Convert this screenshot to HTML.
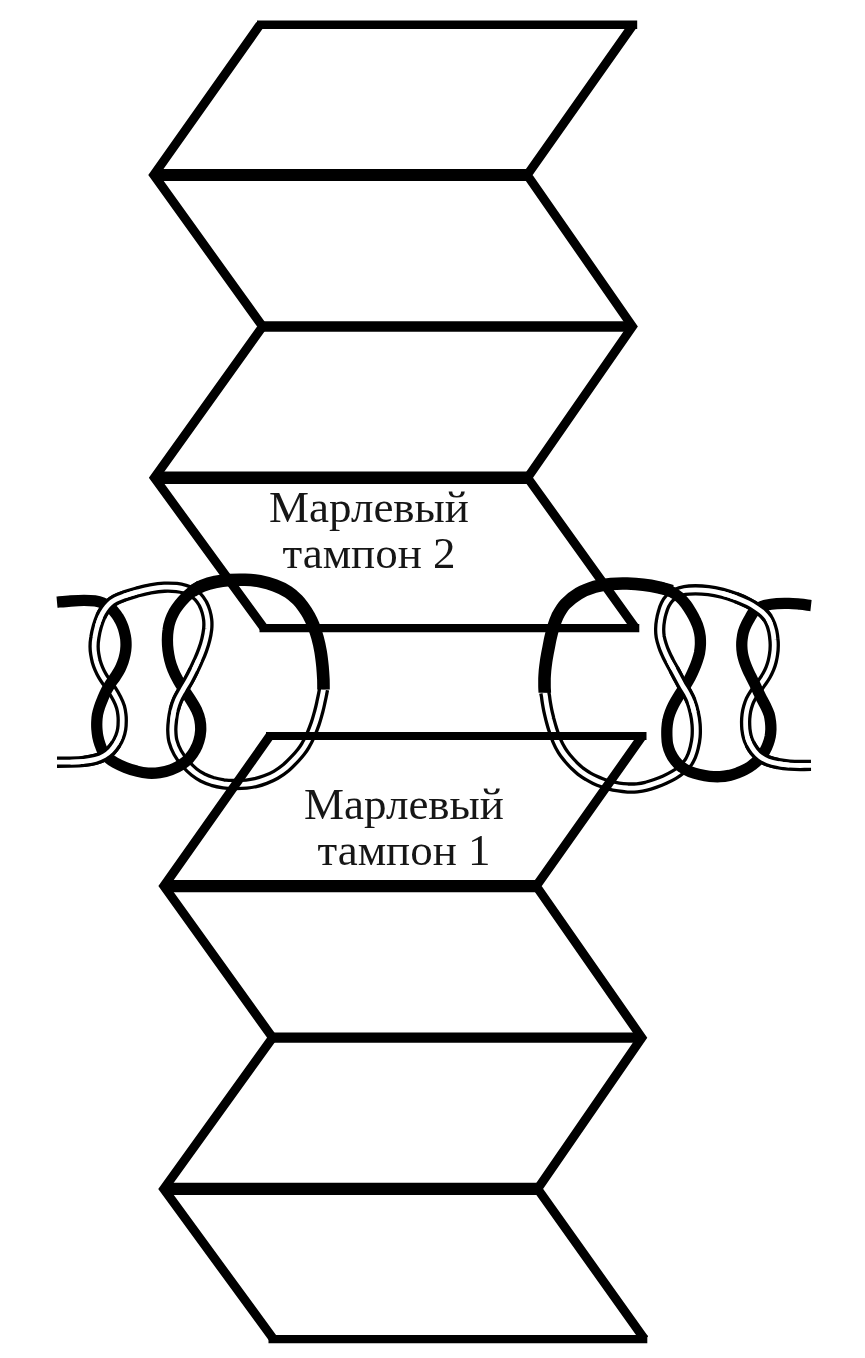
<!DOCTYPE html>
<html><head><meta charset="utf-8"><style>
html,body{margin:0;padding:0;background:#fff;}
body{width:865px;height:1358px;overflow:hidden;position:relative;}
svg{position:absolute;left:0;top:0;}
.t{position:absolute;will-change:transform;font-family:"Liberation Serif",serif;font-size:45px;line-height:46.3px;color:#161616;white-space:nowrap;text-align:center;}
</style></head><body>
<svg width="865" height="1358" viewBox="0 0 865 1358">
<g fill="none" stroke-linecap="butt" stroke-linejoin="round">
<path d="M323.5 689.5 C323.3 690.5 322.8 693.2 322.4 695.2 C322.0 697.3 321.6 699.1 321.0 701.8 C320.4 704.6 319.7 708.0 318.7 711.6 C317.7 715.2 316.6 719.5 315.2 723.5 C313.8 727.4 312.2 731.7 310.6 735.3 C309.0 738.9 307.3 742.3 305.6 745.1 C304.0 747.9 302.7 749.7 300.9 752.0 C299.1 754.3 297.3 756.4 294.8 759.0 C292.3 761.6 289.2 764.9 286.0 767.6 C282.9 770.2 279.2 772.8 275.8 774.8 C272.4 776.8 268.8 778.3 265.4 779.6 C262.0 780.9 258.8 781.9 255.6 782.6 C252.4 783.4 249.7 783.8 246.4 784.1 C243.1 784.4 239.5 784.5 235.7 784.5 C231.9 784.4 227.5 784.3 223.6 783.8 C219.7 783.2 215.8 782.4 212.3 781.4 C208.8 780.3 205.8 779.1 202.8 777.6 C199.8 776.0 197.1 774.4 194.2 772.1 C191.3 769.8 188.3 766.9 185.5 763.6 C182.7 760.4 179.8 756.5 177.7 752.8 C175.6 749.0 174.0 745.0 173.0 741.2 C172.0 737.5 171.9 733.8 171.8 730.2 C171.7 726.7 172.1 723.4 172.5 720.0 C172.9 716.6 173.4 713.3 174.2 710.0 C175.0 706.7 176.1 703.3 177.5 700.0 C178.9 696.7 181.0 693.3 182.9 690.0 C184.8 686.7 186.9 683.3 188.8 680.0 C190.6 676.7 192.2 673.3 193.9 670.0 C195.5 666.7 197.0 663.3 198.5 660.0 C200.0 656.7 201.4 653.4 202.6 650.0 C203.8 646.6 205.0 643.0 205.8 639.5 C206.7 636.0 207.3 632.3 207.7 629.0 C208.0 625.7 208.0 622.8 207.7 619.9 C207.4 617.0 206.8 614.3 206.0 611.5 C205.2 608.8 204.1 606.0 202.8 603.5 C201.4 601.1 199.8 598.8 198.0 596.9 C196.2 595.0 194.1 593.4 191.9 592.1 C189.8 590.9 187.7 590.0 185.1 589.2 C182.6 588.5 179.9 587.9 176.5 587.5 C173.0 587.2 168.7 587.0 164.3 587.2 C160.0 587.4 155.1 588.1 150.5 588.9 C145.9 589.8 141.0 591.1 136.6 592.2 C132.2 593.4 127.8 594.8 124.2 596.0 C120.7 597.3 117.9 598.4 115.4 599.7 C112.9 601.1 111.2 602.4 109.4 604.0 C107.6 605.7 106.1 607.6 104.7 609.7 C103.3 611.8 102.0 613.8 100.8 616.5 C99.6 619.3 98.4 622.6 97.4 626.0 C96.4 629.5 95.4 633.9 94.9 637.4 C94.3 640.8 94.1 643.8 94.1 646.5 C94.1 649.3 94.3 651.4 94.7 653.9 C95.1 656.4 95.6 658.8 96.2 661.3 C96.9 663.7 97.8 666.2 98.8 668.6 C99.8 671.0 101.0 673.4 102.3 675.6 C103.6 677.9 104.9 679.7 106.5 682.0 C108.1 684.3 109.9 686.7 111.6 689.4 C113.4 692.2 115.5 695.7 117.0 698.6 C118.5 701.5 119.7 704.4 120.5 707.0 C121.3 709.7 121.6 712.0 121.9 714.5 C122.2 716.9 122.3 719.4 122.2 721.8 C122.2 724.3 122.1 726.7 121.7 729.2 C121.3 731.6 120.7 734.1 119.7 736.5 C118.8 739.0 117.5 741.5 116.0 743.9 C114.5 746.2 112.8 748.6 110.8 750.6 C108.9 752.6 106.8 754.3 104.2 755.8 C101.7 757.2 98.9 758.4 95.5 759.3 C92.1 760.3 88.2 760.9 84.0 761.4 C79.8 761.9 75.0 762.0 70.5 762.1 C66.0 762.2 59.2 762.2 57.0 762.2" stroke="#000" stroke-width="11.4"/>
<path d="M323.5 689.5 C323.3 690.5 322.8 693.2 322.4 695.2 C322.0 697.3 321.6 699.1 321.0 701.8 C320.4 704.6 319.7 708.0 318.7 711.6 C317.7 715.2 316.6 719.5 315.2 723.5 C313.8 727.4 312.2 731.7 310.6 735.3 C309.0 738.9 307.3 742.3 305.6 745.1 C304.0 747.9 302.7 749.7 300.9 752.0 C299.1 754.3 297.3 756.4 294.8 759.0 C292.3 761.6 289.2 764.9 286.0 767.6 C282.9 770.2 279.2 772.8 275.8 774.8 C272.4 776.8 268.8 778.3 265.4 779.6 C262.0 780.9 258.8 781.9 255.6 782.6 C252.4 783.4 249.7 783.8 246.4 784.1 C243.1 784.4 239.5 784.5 235.7 784.5 C231.9 784.4 227.5 784.3 223.6 783.8 C219.7 783.2 215.8 782.4 212.3 781.4 C208.8 780.3 205.8 779.1 202.8 777.6 C199.8 776.0 197.1 774.4 194.2 772.1 C191.3 769.8 188.3 766.9 185.5 763.6 C182.7 760.4 179.8 756.5 177.7 752.8 C175.6 749.0 174.0 745.0 173.0 741.2 C172.0 737.5 171.9 733.8 171.8 730.2 C171.7 726.7 172.1 723.4 172.5 720.0 C172.9 716.6 173.4 713.3 174.2 710.0 C175.0 706.7 176.1 703.3 177.5 700.0 C178.9 696.7 181.0 693.3 182.9 690.0 C184.8 686.7 186.9 683.3 188.8 680.0 C190.6 676.7 192.2 673.3 193.9 670.0 C195.5 666.7 197.0 663.3 198.5 660.0 C200.0 656.7 201.4 653.4 202.6 650.0 C203.8 646.6 205.0 643.0 205.8 639.5 C206.7 636.0 207.3 632.3 207.7 629.0 C208.0 625.7 208.0 622.8 207.7 619.9 C207.4 617.0 206.8 614.3 206.0 611.5 C205.2 608.8 204.1 606.0 202.8 603.5 C201.4 601.1 199.8 598.8 198.0 596.9 C196.2 595.0 194.1 593.4 191.9 592.1 C189.8 590.9 187.7 590.0 185.1 589.2 C182.6 588.5 179.9 587.9 176.5 587.5 C173.0 587.2 168.7 587.0 164.3 587.2 C160.0 587.4 155.1 588.1 150.5 588.9 C145.9 589.8 141.0 591.1 136.6 592.2 C132.2 593.4 127.8 594.8 124.2 596.0 C120.7 597.3 117.9 598.4 115.4 599.7 C112.9 601.1 111.2 602.4 109.4 604.0 C107.6 605.7 106.1 607.6 104.7 609.7 C103.3 611.8 102.0 613.8 100.8 616.5 C99.6 619.3 98.4 622.6 97.4 626.0 C96.4 629.5 95.4 633.9 94.9 637.4 C94.3 640.8 94.1 643.8 94.1 646.5 C94.1 649.3 94.3 651.4 94.7 653.9 C95.1 656.4 95.6 658.8 96.2 661.3 C96.9 663.7 97.8 666.2 98.8 668.6 C99.8 671.0 101.0 673.4 102.3 675.6 C103.6 677.9 104.9 679.7 106.5 682.0 C108.1 684.3 109.9 686.7 111.6 689.4 C113.4 692.2 115.5 695.7 117.0 698.6 C118.5 701.5 119.7 704.4 120.5 707.0 C121.3 709.7 121.6 712.0 121.9 714.5 C122.2 716.9 122.3 719.4 122.2 721.8 C122.2 724.3 122.1 726.7 121.7 729.2 C121.3 731.6 120.7 734.1 119.7 736.5 C118.8 739.0 117.5 741.5 116.0 743.9 C114.5 746.2 112.8 748.6 110.8 750.6 C108.9 752.6 106.8 754.3 104.2 755.8 C101.7 757.2 98.9 758.4 95.5 759.3 C92.1 760.3 88.2 760.9 84.0 761.4 C79.8 761.9 75.0 762.0 70.5 762.1 C66.0 762.2 59.2 762.2 57.0 762.2" stroke="#fff" stroke-width="4.8"/>
<path d="M57.0 602.2 C59.2 602.0 66.0 601.3 70.5 601.0 C75.0 600.7 79.9 600.4 84.0 600.4 C88.1 600.4 91.9 600.5 95.0 600.9 C98.1 601.3 100.5 602.0 102.8 602.9 C105.0 603.8 106.9 605.0 108.8 606.4 C110.6 607.8 112.4 609.5 114.0 611.4 C115.6 613.2 117.2 615.4 118.5 617.6 C119.9 619.8 121.1 622.2 122.0 624.6 C123.0 626.9 123.8 629.4 124.4 631.8 C125.0 634.3 125.5 636.7 125.8 639.2 C126.0 641.6 126.1 644.1 126.0 646.5 C125.9 649.0 125.6 651.5 125.1 654.0 C124.6 656.4 124.0 658.9 123.2 661.3 C122.3 663.7 121.4 666.2 120.2 668.6 C119.0 671.1 117.4 673.5 115.8 676.0 C114.3 678.5 112.3 680.9 110.7 683.4 C109.1 685.9 107.5 688.5 106.1 691.1 C104.7 693.8 103.6 696.6 102.5 699.3 C101.4 702.0 100.3 704.6 99.5 707.1 C98.7 709.6 98.0 712.0 97.5 714.5 C97.1 716.9 96.9 719.4 96.8 721.8 C96.7 724.3 96.7 726.7 96.9 729.2 C97.1 731.6 97.3 734.1 97.8 736.5 C98.3 739.0 99.0 741.5 99.8 743.9 C100.6 746.3 101.3 748.7 102.6 750.9 C103.8 753.1 105.1 755.1 107.2 757.1 C109.3 759.0 112.0 760.9 115.0 762.6 C118.0 764.3 121.7 766.0 125.3 767.4 C128.9 768.8 132.8 770.2 136.6 771.1 C140.4 772.1 144.3 772.9 148.1 773.1 C152.0 773.4 155.8 773.2 159.7 772.6 C163.5 772.1 167.6 771.1 171.2 769.8 C174.9 768.4 178.6 766.6 181.7 764.6 C184.8 762.6 187.3 760.2 189.6 757.8 C191.8 755.3 193.6 752.7 195.1 749.9 C196.7 747.1 198.0 744.0 198.9 740.8 C199.9 737.5 200.5 733.9 200.7 730.4 C200.8 726.9 200.6 723.4 199.9 720.0 C199.3 716.6 198.1 713.3 196.6 710.0 C195.0 706.7 192.9 703.3 190.8 700.0 C188.8 696.7 186.3 693.3 184.2 690.0 C182.0 686.7 179.8 683.3 178.0 680.0 C176.1 676.7 174.4 673.3 173.1 670.0 C171.7 666.7 170.6 663.3 169.8 660.0 C169.0 656.7 168.4 653.3 168.0 650.0 C167.6 646.7 167.4 643.3 167.4 640.0 C167.4 636.7 167.6 633.3 168.1 630.0 C168.5 626.7 169.3 623.3 170.4 620.2 C171.4 617.2 172.8 614.3 174.2 611.7 C175.7 609.0 177.4 606.7 179.2 604.4 C181.1 602.0 183.2 599.6 185.4 597.4 C187.7 595.2 190.3 593.0 192.8 591.0 C195.3 589.0 199.2 586.4 200.5 585.5" stroke="#000" stroke-width="11.3"/>
<path d="M192.8 590.8 C194.4 590.0 198.5 587.3 202.2 585.8 C205.9 584.4 210.5 583.0 215.1 582.0 C219.8 581.1 225.0 580.4 230.0 580.0 C235.0 579.7 240.0 579.6 245.0 579.8 C250.0 580.0 255.0 580.4 260.0 581.3 C265.0 582.3 270.3 583.7 275.0 585.5 C279.7 587.2 284.6 589.7 288.4 592.1 C292.1 594.5 295.0 597.3 297.6 599.9 C300.1 602.4 301.7 604.8 303.6 607.4 C305.5 610.0 307.1 612.5 308.8 615.5 C310.4 618.5 312.0 621.7 313.5 625.4 C314.9 629.1 316.4 633.2 317.5 637.5 C318.7 641.9 319.8 646.7 320.6 651.5 C321.4 656.3 322.0 661.6 322.5 666.3 C322.9 670.9 323.2 675.6 323.4 679.5 C323.5 683.3 323.5 687.8 323.5 689.5" stroke="#000" stroke-width="12.6"/>
<path d="M124.25 596.05 C120.72 597.30 117.88 598.39 115.40 599.73 C112.92 601.06 111.16 602.38 109.38 604.05 C107.59 605.72 106.13 607.64 104.70 609.73 C103.27 611.81 102.02 613.83 100.80 616.55" stroke="#000" stroke-width="11.4"/>
<path d="M136.60 592.25 C132.23 593.43 127.78 594.80 124.25 596.05 C120.72 597.30 117.88 598.39 115.40 599.73 C112.92 601.06 111.16 602.38 109.38 604.05 C107.59 605.72 106.13 607.64 104.70 609.73 C103.27 611.81 102.02 613.83 100.80 616.55 C99.58 619.27 98.36 622.58 97.38 626.05" stroke="#fff" stroke-width="4.8"/>
<path d="M115.97 743.90 C114.49 746.25 112.78 748.65 110.83 750.62 C108.87 752.60 106.80 754.32 104.25 755.77 C101.70 757.23 98.88 758.41 95.50 759.35 C92.12 760.29 88.17 760.94 84.00 761.40" stroke="#000" stroke-width="11.4"/>
<path d="M119.72 736.52 C118.77 738.98 117.46 741.55 115.97 743.90 C114.49 746.25 112.78 748.65 110.83 750.62 C108.87 752.60 106.80 754.32 104.25 755.77 C101.70 757.23 98.88 758.41 95.50 759.35 C92.12 760.29 88.17 760.94 84.00 761.40 C79.83 761.86 75.00 761.97 70.50 762.10" stroke="#fff" stroke-width="4.8"/>
<path d="M174.20 710.00 C175.03 706.67 176.05 703.33 177.50 700.00 C178.95 696.67 181.00 693.33 182.88 690.00 C184.75 686.67 186.92 683.33 188.75 680.00 C190.58 676.67 192.25 673.33 193.88 670.00" stroke="#000" stroke-width="11.4"/>
<path d="M172.53 720.00 C172.93 716.62 173.37 713.33 174.20 710.00 C175.03 706.67 176.05 703.33 177.50 700.00 C178.95 696.67 181.00 693.33 182.88 690.00 C184.75 686.67 186.92 683.33 188.75 680.00 C190.58 676.67 192.25 673.33 193.88 670.00 C195.50 666.67 197.04 663.33 198.50 660.00" stroke="#fff" stroke-width="4.8"/>
<path d="M544.8 692.8 C544.9 693.4 545.2 694.6 545.5 696.3 C545.7 698.0 546.0 700.5 546.4 702.9 C546.8 705.3 547.3 708.3 547.9 711.0 C548.5 713.7 549.1 716.1 549.8 719.1 C550.6 722.1 551.4 725.3 552.6 728.9 C553.7 732.5 555.2 737.0 556.8 740.7 C558.3 744.3 560.2 747.8 562.0 750.8 C563.8 753.8 565.7 756.0 567.7 758.4 C569.7 760.8 571.8 763.1 574.0 765.3 C576.2 767.4 578.5 769.6 580.8 771.4 C583.1 773.1 585.4 774.7 587.7 776.0 C590.0 777.4 592.3 778.6 594.7 779.7 C597.1 780.8 599.4 781.8 602.0 782.8 C604.5 783.7 607.2 784.5 610.0 785.2 C612.8 786.0 615.7 786.5 618.7 787.0 C621.7 787.5 624.7 787.8 627.8 788.0 C630.8 788.1 633.9 788.1 637.0 787.8 C640.1 787.5 643.2 787.0 646.3 786.2 C649.4 785.5 652.4 784.4 655.5 783.3 C658.6 782.2 661.7 781.0 664.8 779.6 C667.8 778.2 671.0 776.7 674.0 774.9 C676.9 773.2 679.9 771.0 682.2 769.0 C684.5 767.0 686.4 764.9 688.0 762.8 C689.5 760.7 690.4 758.8 691.5 756.3 C692.5 753.8 693.5 751.1 694.2 747.8 C695.0 744.5 695.8 740.6 696.1 736.7 C696.4 732.8 696.4 728.6 696.1 724.5 C695.8 720.5 695.1 716.2 694.2 712.4 C693.4 708.5 692.3 704.6 691.0 701.3 C689.8 698.0 688.3 695.3 686.8 692.6 C685.4 689.9 683.7 687.6 682.2 685.1 C680.8 682.5 679.4 679.9 678.0 677.2 C676.6 674.5 675.2 671.8 673.7 669.1 C672.2 666.4 670.7 663.7 669.3 661.0 C667.9 658.3 666.5 655.6 665.4 652.9 C664.2 650.2 663.1 647.5 662.3 644.8 C661.4 642.1 660.7 639.4 660.2 636.7 C659.8 634.0 659.6 631.3 659.7 628.6 C659.7 625.9 660.0 623.2 660.5 620.5 C660.9 617.8 661.5 615.0 662.3 612.4 C663.0 609.8 663.9 607.0 665.1 604.6 C666.3 602.2 667.8 599.9 669.6 598.0 C671.5 596.0 673.7 594.4 676.2 593.1 C678.8 591.9 681.5 591.1 684.7 590.5 C687.9 589.9 691.5 589.8 695.5 589.8 C699.5 589.8 704.0 590.1 708.5 590.7 C713.0 591.2 717.8 592.2 722.4 593.3 C727.0 594.5 731.7 596.1 736.0 597.7 C740.3 599.3 744.5 601.2 748.1 603.0 C751.6 604.8 754.7 606.7 757.2 608.4 C759.8 610.1 761.7 611.5 763.4 613.1 C765.1 614.8 766.4 616.2 767.6 618.0 C768.8 619.9 769.9 622.2 770.8 624.5 C771.7 626.8 772.3 629.4 772.9 631.8 C773.4 634.3 773.7 636.7 773.9 639.2 C774.2 641.6 774.3 644.1 774.2 646.5 C774.2 649.0 774.0 651.4 773.6 653.9 C773.3 656.4 772.8 658.8 772.2 661.3 C771.6 663.7 770.8 666.2 769.8 668.6 C768.8 671.0 767.6 673.5 766.3 675.8 C765.0 678.0 763.5 680.2 762.1 682.2 C760.7 684.3 759.3 686.2 757.9 688.1 C756.5 690.1 755.0 691.9 753.7 693.9 C752.4 695.9 751.2 697.9 750.1 700.1 C749.1 702.3 748.3 704.7 747.6 707.1 C746.9 709.5 746.4 712.0 746.1 714.5 C745.8 716.9 745.6 719.4 745.6 721.8 C745.6 724.3 745.7 726.7 745.9 729.2 C746.2 731.6 746.5 734.1 747.2 736.5 C747.8 739.0 748.7 741.5 750.0 743.9 C751.2 746.3 752.7 748.7 754.4 750.9 C756.1 753.0 758.0 755.0 760.2 756.7 C762.4 758.4 764.9 759.8 767.9 760.9 C770.9 762.1 774.5 762.9 778.1 763.6 C781.8 764.3 785.8 764.8 789.5 765.1 C793.2 765.4 796.7 765.5 800.2 765.5 C803.8 765.5 809.2 765.4 811.0 765.4" stroke="#000" stroke-width="11.4"/>
<path d="M544.8 692.8 C544.9 693.4 545.2 694.6 545.5 696.3 C545.7 698.0 546.0 700.5 546.4 702.9 C546.8 705.3 547.3 708.3 547.9 711.0 C548.5 713.7 549.1 716.1 549.8 719.1 C550.6 722.1 551.4 725.3 552.6 728.9 C553.7 732.5 555.2 737.0 556.8 740.7 C558.3 744.3 560.2 747.8 562.0 750.8 C563.8 753.8 565.7 756.0 567.7 758.4 C569.7 760.8 571.8 763.1 574.0 765.3 C576.2 767.4 578.5 769.6 580.8 771.4 C583.1 773.1 585.4 774.7 587.7 776.0 C590.0 777.4 592.3 778.6 594.7 779.7 C597.1 780.8 599.4 781.8 602.0 782.8 C604.5 783.7 607.2 784.5 610.0 785.2 C612.8 786.0 615.7 786.5 618.7 787.0 C621.7 787.5 624.7 787.8 627.8 788.0 C630.8 788.1 633.9 788.1 637.0 787.8 C640.1 787.5 643.2 787.0 646.3 786.2 C649.4 785.5 652.4 784.4 655.5 783.3 C658.6 782.2 661.7 781.0 664.8 779.6 C667.8 778.2 671.0 776.7 674.0 774.9 C676.9 773.2 679.9 771.0 682.2 769.0 C684.5 767.0 686.4 764.9 688.0 762.8 C689.5 760.7 690.4 758.8 691.5 756.3 C692.5 753.8 693.5 751.1 694.2 747.8 C695.0 744.5 695.8 740.6 696.1 736.7 C696.4 732.8 696.4 728.6 696.1 724.5 C695.8 720.5 695.1 716.2 694.2 712.4 C693.4 708.5 692.3 704.6 691.0 701.3 C689.8 698.0 688.3 695.3 686.8 692.6 C685.4 689.9 683.7 687.6 682.2 685.1 C680.8 682.5 679.4 679.9 678.0 677.2 C676.6 674.5 675.2 671.8 673.7 669.1 C672.2 666.4 670.7 663.7 669.3 661.0 C667.9 658.3 666.5 655.6 665.4 652.9 C664.2 650.2 663.1 647.5 662.3 644.8 C661.4 642.1 660.7 639.4 660.2 636.7 C659.8 634.0 659.6 631.3 659.7 628.6 C659.7 625.9 660.0 623.2 660.5 620.5 C660.9 617.8 661.5 615.0 662.3 612.4 C663.0 609.8 663.9 607.0 665.1 604.6 C666.3 602.2 667.8 599.9 669.6 598.0 C671.5 596.0 673.7 594.4 676.2 593.1 C678.8 591.9 681.5 591.1 684.7 590.5 C687.9 589.9 691.5 589.8 695.5 589.8 C699.5 589.8 704.0 590.1 708.5 590.7 C713.0 591.2 717.8 592.2 722.4 593.3 C727.0 594.5 731.7 596.1 736.0 597.7 C740.3 599.3 744.5 601.2 748.1 603.0 C751.6 604.8 754.7 606.7 757.2 608.4 C759.8 610.1 761.7 611.5 763.4 613.1 C765.1 614.8 766.4 616.2 767.6 618.0 C768.8 619.9 769.9 622.2 770.8 624.5 C771.7 626.8 772.3 629.4 772.9 631.8 C773.4 634.3 773.7 636.7 773.9 639.2 C774.2 641.6 774.3 644.1 774.2 646.5 C774.2 649.0 774.0 651.4 773.6 653.9 C773.3 656.4 772.8 658.8 772.2 661.3 C771.6 663.7 770.8 666.2 769.8 668.6 C768.8 671.0 767.6 673.5 766.3 675.8 C765.0 678.0 763.5 680.2 762.1 682.2 C760.7 684.3 759.3 686.2 757.9 688.1 C756.5 690.1 755.0 691.9 753.7 693.9 C752.4 695.9 751.2 697.9 750.1 700.1 C749.1 702.3 748.3 704.7 747.6 707.1 C746.9 709.5 746.4 712.0 746.1 714.5 C745.8 716.9 745.6 719.4 745.6 721.8 C745.6 724.3 745.7 726.7 745.9 729.2 C746.2 731.6 746.5 734.1 747.2 736.5 C747.8 739.0 748.7 741.5 750.0 743.9 C751.2 746.3 752.7 748.7 754.4 750.9 C756.1 753.0 758.0 755.0 760.2 756.7 C762.4 758.4 764.9 759.8 767.9 760.9 C770.9 762.1 774.5 762.9 778.1 763.6 C781.8 764.3 785.8 764.8 789.5 765.1 C793.2 765.4 796.7 765.5 800.2 765.5 C803.8 765.5 809.2 765.4 811.0 765.4" stroke="#fff" stroke-width="4.8"/>
<path d="M811.0 605.6 C809.2 605.4 803.9 604.6 800.2 604.2 C796.6 603.9 792.9 603.5 789.0 603.4 C785.1 603.3 780.6 603.3 776.8 603.6 C772.9 603.9 768.9 604.5 765.8 605.2 C762.6 606.0 760.1 607.1 758.0 608.2 C755.9 609.4 754.7 610.7 753.4 612.3 C752.1 613.8 751.2 615.6 750.0 617.7 C748.8 619.7 747.4 622.1 746.3 624.5 C745.2 626.8 744.1 629.4 743.4 631.8 C742.7 634.3 742.4 636.7 742.1 639.2 C741.8 641.6 741.7 644.1 741.8 646.5 C741.8 649.0 742.1 651.4 742.5 653.9 C743.0 656.4 743.6 658.8 744.4 661.3 C745.2 663.7 746.1 666.2 747.2 668.6 C748.2 671.1 749.4 673.5 750.7 676.0 C751.9 678.5 753.2 680.9 754.4 683.4 C755.6 685.9 756.8 688.5 758.0 691.1 C759.3 693.8 760.6 696.6 762.0 699.3 C763.3 702.0 764.9 704.6 766.1 707.1 C767.3 709.6 768.4 712.0 769.2 714.5 C769.9 716.9 770.2 719.4 770.5 721.8 C770.8 724.3 770.9 726.7 770.9 729.2 C770.8 731.6 770.6 734.1 770.2 736.5 C769.7 739.0 769.1 741.4 768.1 743.9 C767.2 746.4 766.2 748.8 764.7 751.2 C763.3 753.7 761.4 756.3 759.4 758.6 C757.3 760.9 754.7 763.3 752.2 765.1 C749.8 767.0 747.2 768.5 744.7 769.8 C742.2 771.1 739.9 772.0 737.4 773.0 C734.8 773.9 732.2 774.7 729.4 775.4 C726.5 776.0 723.3 776.5 720.0 776.7 C716.7 776.8 713.1 776.7 709.6 776.3 C706.2 776.0 702.7 775.3 699.4 774.5 C696.2 773.8 693.1 773.0 690.1 771.8 C687.2 770.6 684.4 769.2 681.9 767.3 C679.4 765.5 677.1 763.1 675.2 760.7 C673.3 758.3 671.6 755.6 670.4 752.9 C669.1 750.2 668.3 747.5 667.7 744.8 C667.1 742.1 667.0 739.4 666.9 736.7 C666.8 734.0 666.8 731.3 666.9 728.6 C667.1 725.9 667.3 723.2 667.9 720.5 C668.4 717.8 669.2 715.1 670.2 712.4 C671.2 709.7 672.4 707.0 673.8 704.3 C675.2 701.6 676.9 698.8 678.7 695.9 C680.5 693.0 682.7 689.9 684.6 686.9 C686.5 683.8 688.5 680.6 690.1 677.6 C691.7 674.7 692.9 671.9 694.1 669.1 C695.3 666.3 696.3 663.7 697.2 661.0 C698.1 658.3 698.9 655.6 699.5 652.9 C700.0 650.2 700.3 647.5 700.4 644.8 C700.5 642.1 700.4 639.4 700.2 636.7 C699.9 634.0 699.4 631.3 698.6 628.6 C697.9 625.9 696.8 623.2 695.5 620.5 C694.3 617.8 692.8 615.1 691.2 612.4 C689.6 609.7 688.0 607.0 686.1 604.5 C684.1 602.0 682.2 599.5 679.6 597.3 C677.1 595.2 674.2 593.2 670.9 591.5 C667.5 589.7 661.4 587.7 659.5 586.9" stroke="#000" stroke-width="11.3"/>
<path d="M672.0 591.0 C669.8 590.4 663.4 588.4 658.6 587.3 C653.8 586.3 648.5 585.4 643.3 584.8 C638.1 584.1 632.5 583.7 627.1 583.5 C621.7 583.4 616.3 583.4 610.9 583.9 C605.5 584.4 600.1 585.2 594.7 586.8 C589.4 588.4 583.6 590.6 578.7 593.5 C573.8 596.4 569.0 600.2 565.4 604.0 C561.8 607.8 559.4 612.4 557.3 616.4 C555.3 620.5 554.1 624.8 553.0 628.4 C551.9 632.0 551.2 635.1 550.5 638.0 C549.8 641.0 549.4 643.5 548.9 646.2 C548.4 648.9 547.8 651.6 547.3 654.3 C546.8 657.0 546.3 659.7 546.0 662.4 C545.6 665.1 545.3 667.8 545.0 670.5 C544.8 673.2 544.6 676.0 544.5 678.6 C544.5 681.2 544.5 683.8 544.5 686.2 C544.5 688.6 544.8 691.7 544.8 692.8" stroke="#000" stroke-width="12.6"/>
<path d="M736.00 597.67 C740.28 599.28 744.53 601.19 748.08 602.98 C751.62 604.76 754.70 606.68 757.25 608.38 C759.80 610.07 761.67 611.54 763.40 613.15 C765.12 614.76 766.37 616.16 767.60 618.05" stroke="#000" stroke-width="11.4"/>
<path d="M722.40 593.33 C726.98 594.50 731.72 596.07 736.00 597.67 C740.28 599.28 744.53 601.19 748.08 602.98 C751.62 604.76 754.70 606.68 757.25 608.38 C759.80 610.07 761.67 611.54 763.40 613.15 C765.12 614.76 766.37 616.16 767.60 618.05 C768.83 619.94 769.90 622.18 770.78 624.48" stroke="#fff" stroke-width="4.8"/>
<path d="M749.95 743.90 C751.15 746.29 752.69 748.74 754.40 750.88 C756.11 753.01 757.95 755.03 760.20 756.70 C762.45 758.38 764.88 759.77 767.88 760.92 C770.87 762.08 774.55 762.93 778.15 763.62" stroke="#000" stroke-width="11.4"/>
<path d="M747.17 736.52 C747.85 738.98 748.75 741.51 749.95 743.90 C751.15 746.29 752.69 748.74 754.40 750.88 C756.11 753.01 757.95 755.03 760.20 756.70 C762.45 758.38 764.88 759.77 767.88 760.92 C770.87 762.08 774.55 762.93 778.15 763.62 C781.75 764.32 785.79 764.79 789.48 765.10" stroke="#fff" stroke-width="4.8"/>
<path d="M691.02 701.33 C689.79 698.03 688.29 695.33 686.83 692.62 C685.36 689.92 683.73 687.65 682.25 685.08 C680.77 682.50 679.40 679.86 677.98 677.20 C676.55 674.54 675.15 671.80 673.70 669.10" stroke="#000" stroke-width="11.4"/>
<path d="M694.23 712.38 C693.38 708.51 692.26 704.62 691.02 701.33 C689.79 698.03 688.29 695.33 686.83 692.62 C685.36 689.92 683.73 687.65 682.25 685.08 C680.77 682.50 679.40 679.86 677.98 677.20 C676.55 674.54 675.15 671.80 673.70 669.10 C672.25 666.40 670.66 663.70 669.27 661.00" stroke="#fff" stroke-width="4.8"/>
</g>
<g stroke="#000" fill="none">
<line x1="257.0" y1="24.70" x2="637.2" y2="24.70" stroke-width="8.40"/>
<line x1="153.8" y1="174.97" x2="527.2" y2="174.97" stroke-width="12.10"/>
<line x1="262.6" y1="326.50" x2="632.4" y2="326.50" stroke-width="10.40"/>
<line x1="154.4" y1="477.76" x2="527.6" y2="477.76" stroke-width="12.40"/>
<line x1="259.5" y1="628.10" x2="639.3" y2="628.10" stroke-width="8.40"/>
<path d="M260.0 24.70 L153.8 174.97 L262.6 326.50 L154.4 477.76 L264.0 628.10" fill="none" stroke-width="9.0" stroke-linejoin="miter" stroke-linecap="butt"/>
<path d="M633.2 24.70 L527.2 174.97 L632.4 326.50 L527.6 477.76 L635.5 628.10" fill="none" stroke-width="9.0" stroke-linejoin="miter" stroke-linecap="butt"/>
<line x1="266.0" y1="735.95" x2="646.5" y2="735.95" stroke-width="8.10"/>
<line x1="163.9" y1="886.10" x2="536.2" y2="886.10" stroke-width="12.20"/>
<line x1="272.6" y1="1037.66" x2="641.8" y2="1037.66" stroke-width="10.40"/>
<line x1="163.8" y1="1188.90" x2="537.6" y2="1188.90" stroke-width="12.30"/>
<line x1="268.5" y1="1339.20" x2="647.3" y2="1339.20" stroke-width="8.25"/>
<path d="M269.8 735.95 L163.9 886.10 L272.6 1037.66 L163.8 1188.90 L273.5 1339.20" fill="none" stroke-width="9.0" stroke-linejoin="miter" stroke-linecap="butt"/>
<path d="M642.4 735.95 L536.2 886.10 L641.8 1037.66 L537.6 1188.90 L644.5 1339.20" fill="none" stroke-width="9.0" stroke-linejoin="miter" stroke-linecap="butt"/>
</g>
</svg>
<div class="t" id="t2" style="left:269px;top:484px;width:200px;">Марлевый<br>тампон 2</div>
<div class="t" id="t1" style="left:303.5px;top:781px;width:200px;">Марлевый<br>тампон 1</div>
</body></html>
